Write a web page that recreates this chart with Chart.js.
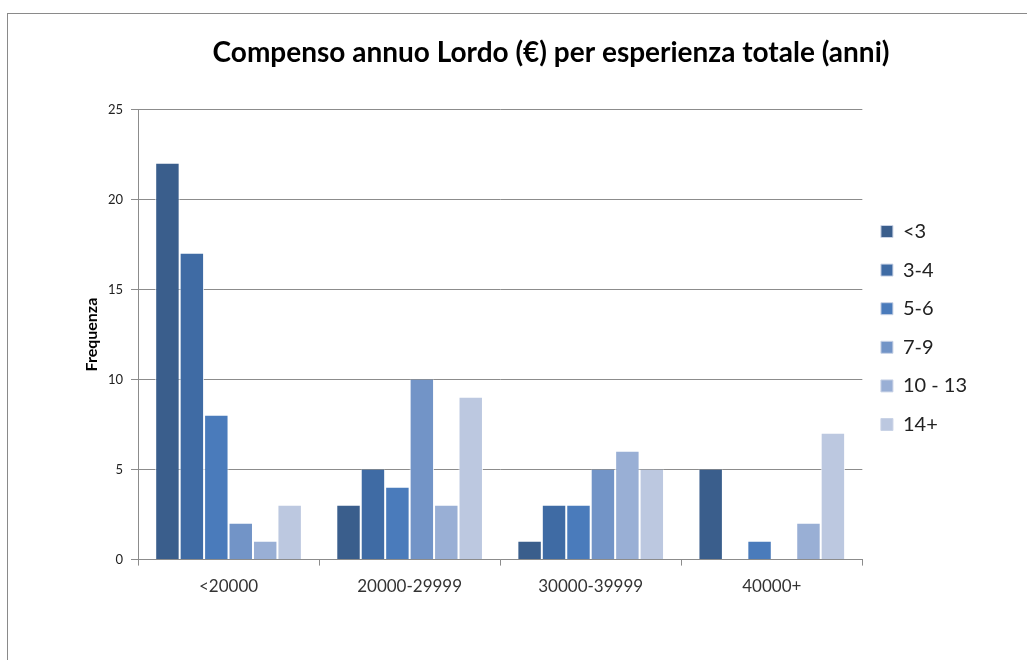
<!DOCTYPE html>
<html><head><meta charset="utf-8">
<script src="https://cdn.jsdelivr.net/npm/chart.js@4.4.0/dist/chart.umd.min.js"></script>
<style>
html,body{margin:0;padding:0;background:#fff;}
#wrap{position:relative;width:1027px;height:660px;}
#frame{position:absolute;left:7px;top:13px;right:-5px;bottom:-5px;border-top:1px solid #8a8a8a;border-left:1px solid #8a8a8a;pointer-events:none;}
canvas{position:absolute;left:0;top:0;}
</style></head><body>
<div id="wrap"><canvas id="c" width="1027" height="660"></canvas><div id="frame"></div></div>
<script>
const categories = ["<20000", "20000-29999", "30000-39999", "40000+"];
const seriesNames = ["<3", "3-4", "5-6", "7-9", "10 - 13", "14+"];
const s_lt3   = [22, 3, 1, 5];
const s_3_4   = [17, 5, 3, 0];
const s_5_6   = [8, 4, 3, 1];
const s_7_9   = [2, 10, 5, 0];
const s_10_13 = [1, 3, 6, 2];
const s_14p   = [3, 9, 5, 7];
const yTicks = [0, 5, 10, 15, 20, 25];
const title = "Compenso annuo Lordo (€) per esperienza totale (anni)";
const yTitle = "Frequenza";

const colors = ["#3a5e8c", "#3f6ba4", "#4a7bbb", "#7294c7", "#99afd5", "#bcc8e0"];
const seriesData = [s_lt3, s_3_4, s_5_6, s_7_9, s_10_13, s_14p];

const placeBlocks = {
  id: 'placeBlocks',
  afterLayout(chart) {
    if (chart.titleBlock) { chart.titleBlock.left = 75; chart.titleBlock.right = 1027; }
    if (chart.legend) { chart.legend.top += 6; chart.legend.bottom += 6; }
  }
};

new Chart(document.getElementById('c'), {
  type: 'bar',
  data: {
    labels: categories,
    datasets: seriesNames.map((n, i) => ({
      label: n,
      data: seriesData[i],
      backgroundColor: colors[i],
      borderColor: 'rgba(255,255,255,0.85)',
      borderWidth: {left: 1, right: 1, top: 0, bottom: 0},
      borderSkipped: false,
      categoryPercentage: 0.81,
      barPercentage: 1.0
    }))
  },
  plugins: [placeBlocks],
  options: {
    responsive: false,
    animation: false,
    devicePixelRatio: 1,
    layout: {padding: {left: 82, right: 50, top: 36, bottom: 52}},
    plugins: {
      title: {
        display: true, text: title, color: '#000',
        font: {family: 'Lato', size: 28, weight: 'bold'},
        padding: {top: 0, bottom: 40}
      },
      legend: {
        position: 'right',
        labels: {
          color: '#222',
          font: {family: 'Lato', size: 20},
          boxWidth: 12, boxHeight: 12, padding: 18.6,
          generateLabels: (chart) => chart.data.datasets.map((d, i) => ({
            text: d.label, fillStyle: d.backgroundColor, strokeStyle: '#c9d3e6',
            lineWidth: 1, hidden: false, datasetIndex: i, fontColor: '#222'
          }))
        }
      },
      tooltip: {enabled: false}
    },
    scales: {
      x: {
        grid: {display: true, drawOnChartArea: false, offset: true, color: '#8c8c8c', tickLength: 6},
        border: {color: '#8c8c8c'},
        ticks: {color: '#333', font: {family: 'Lato', size: 17}, padding: 11}
      },
      y: {
        min: 0, max: 25,
        afterBuildTicks: (s) => { s.ticks = yTicks.map(v => ({value: v})); },
        afterFit: (s) => { s.width = 56; },
        grid: {color: '#8c8c8c', tickLength: 7},
        border: {color: '#8c8c8c'},
        ticks: {color: '#222', font: {family: 'Lato', size: 13}, padding: 8},
        title: {display: true, text: yTitle, color: '#000', font: {family: 'Lato', size: 16, weight: 'bold'}, padding: 0}
      }
    }
  }
});
</script>
</body></html>
